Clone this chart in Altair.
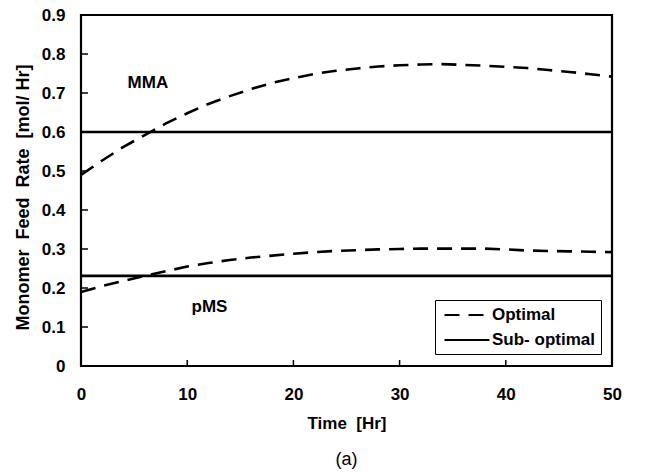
import altair as alt
import pandas as pd

# ---- data ----
time_hr = [0, 2, 4, 6, 8, 10, 12, 14, 16, 18, 20, 22, 24, 26, 28, 30, 32, 34, 36, 38, 40, 42, 44, 46, 48, 50]
mma_optimal = [0.490, 0.527, 0.562, 0.592, 0.622, 0.648, 0.672, 0.692, 0.710, 0.726, 0.738, 0.749, 0.757,
               0.763, 0.768, 0.771, 0.773, 0.774, 0.772, 0.770, 0.767, 0.764, 0.759, 0.754, 0.748, 0.742]
pms_optimal = [0.190, 0.205, 0.218, 0.231, 0.243, 0.255, 0.264, 0.272, 0.278, 0.283, 0.288, 0.292, 0.295,
               0.297, 0.299, 0.300, 0.301, 0.301, 0.301, 0.301, 0.299, 0.296, 0.295, 0.294, 0.293, 0.292]
sub_time = [0, 50]
mma_suboptimal = 0.600
pms_suboptimal = 0.231

series_names = ["MMA", "pMS"]
kind_names = ["Optimal", "Sub- optimal"]
label_t = [6.3, 12.1]
label_v = [0.726, 0.151]

x_tick_values = [0, 10, 20, 30, 40, 50]
y_tick_values = [0, 0.1, 0.2, 0.3, 0.4, 0.5, 0.6, 0.7, 0.8, 0.9]
x_inner_ticks = [10, 20, 30, 40]
y_inner_ticks = [0.1, 0.2, 0.3, 0.4, 0.5, 0.6, 0.7, 0.8]

# ---- tables ----
rows = []
for t, m, p in zip(time_hr, mma_optimal, pms_optimal):
    rows.append({"t": t, "v": m, "series": "MMA", "kind": "Optimal"})
    rows.append({"t": t, "v": p, "series": "pMS", "kind": "Optimal"})
for name, val in zip(series_names, [mma_suboptimal, pms_suboptimal]):
    for t in sub_time:
        rows.append({"t": t, "v": val, "series": name, "kind": "Sub- optimal"})
df = pd.DataFrame(rows)
labels_df = pd.DataFrame({"t": label_t, "v": label_v, "text": series_names})
xt_df = pd.DataFrame({"t": x_inner_ticks})
yt_df = pd.DataFrame({"v": y_inner_ticks})

FONT = "Liberation Sans"
FS = 17
NB = "\u00a0"
W, H = 531, 351
xscale = alt.Scale(domain=[0, 50], nice=False, zero=False)
yscale = alt.Scale(domain=[0, 0.9], nice=False, zero=False)

x_axis = alt.Axis(
    title="Time" + NB + NB + "[Hr]", values=x_tick_values, ticks=False, tickSize=0, domain=False, grid=False,
    labelFont=FONT, labelFontSize=FS, labelFontWeight="bold", labelColor="black", labelPadding=20,
    labelOverlap=False,
    titleFont=FONT, titleFontSize=FS, titleFontWeight="bold", titleColor="black", titlePadding=13,
    labelFlush=False)
y_axis = alt.Axis(
    title="Monomer" + NB + NB + "Feed" + NB + NB + "Rate" + NB + NB + "[mol/" + NB + "Hr]",
    values=y_tick_values, ticks=False, tickSize=0, domain=False,
    grid=False, labelExpr="datum.value == 0 ? '0' : format(datum.value, '.1f')",
    labelOverlap=False, labelSeparation=0,
    labelFont=FONT, labelFontSize=FS, labelFontWeight="bold", labelColor="black", labelPadding=16,
    titleFont=FONT, titleFontSize=18, titleFontWeight="bold", titleColor="black", titlePadding=9,
    titleY=182, labelFlush=False)

lines = alt.Chart(df).mark_line(color="black", strokeWidth=2.6).encode(
    x=alt.X("t:Q", scale=xscale, axis=x_axis),
    y=alt.Y("v:Q", scale=yscale, axis=y_axis),
    detail="series:N",
    strokeDash=alt.StrokeDash("kind:N", scale=alt.Scale(domain=kind_names, range=[[15, 9], [1, 0]]),
        legend=alt.Legend(title=None, orient="none", legendX=354, legendY=285,
                          strokeColor="black", fillColor="white", padding=6, rowPadding=8,
                          symbolType="M-3,0H3", symbolSize=225, symbolStrokeWidth=2.2,
                          symbolStrokeColor="black", symbolOffset=17, labelOffset=16,
                          labelFont=FONT, labelFontSize=FS, labelFontWeight="bold", labelColor="black")),
)

labels = alt.Chart(labels_df).mark_text(font=FONT, fontSize=FS, fontWeight="bold", color="black").encode(
    x=alt.X("t:Q", scale=xscale, axis=x_axis), y=alt.Y("v:Q", scale=yscale, axis=y_axis), text="text:N")

yticks = alt.Chart(yt_df).mark_rule(color="black", strokeWidth=1.5).encode(
    y=alt.Y("v:Q", scale=yscale, axis=y_axis), x=alt.value(0), x2=alt.value(7))
xticks = alt.Chart(xt_df).mark_rule(color="black", strokeWidth=1.5).encode(
    x=alt.X("t:Q", scale=xscale, axis=x_axis), y=alt.value(H), y2=alt.value(H - 6))

chart = alt.layer(lines, labels, yticks, xticks).properties(
    width=W, height=H,
    background="white",
    title=alt.TitleParams("(a)", orient="bottom", anchor="middle", font=FONT, fontSize=18,
                          fontWeight="normal", color="black", offset=20),
    autosize=alt.AutoSizeParams(type="none"),
    padding={"left": 81, "top": 15, "right": 54, "bottom": 109},
).configure_view(stroke="black", strokeWidth=2.2).configure_axis(labelOverlap=False)

chart.save("out.html", embed_options={"renderer": "svg", "actions": False})
